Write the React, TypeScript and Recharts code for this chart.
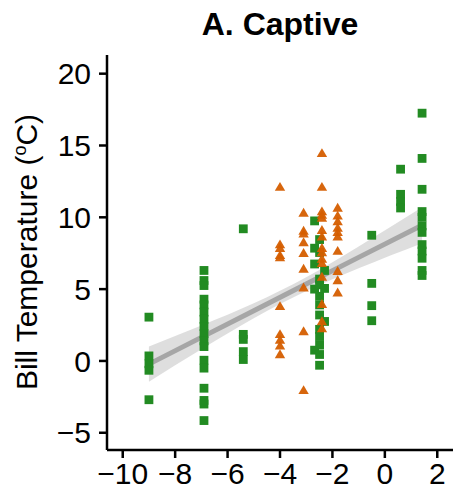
import React from "react";
import { ComposedChart, Scatter, Line, Area, XAxis, YAxis } from "recharts";

// green squares: one x position per column, y values
const greenX = [-9.0, -6.9, -5.4, -2.68, -2.49, -2.3, -0.5, 0.6, 1.42];
const greenY = [
  [3.05, 0.35, -0.2, -0.65, -2.7],
  [6.3, 5.6, 5.25, 4.3, 3.9, 3.4, 2.9, 2.4, 1.9, 1.4, 1.0, 0.05, -0.5, -1.9, -2.75, -3.0, -4.15],
  [9.2, 1.85, 1.5, 0.65, 0.1],
  [9.75, 7.85, 6.75, 5.0, 0.75],
  [8.45, 7.55, 5.7, 5.3, 4.5, 3.9, 3.2, 2.2, 1.7, 1.1, 0.45, -0.3],
  [6.3, 5.05, 2.75],
  [8.75, 5.4, 3.85, 2.8],
  [13.35, 11.6, 11.1, 10.65],
  [17.25, 14.1, 11.95, 10.4, 10.0, 9.4, 8.95, 8.1, 7.65, 7.15, 6.3, 5.95],
];

// orange triangles
const orangeX = [-4.0, -3.1, -2.4, -1.8];
const orangeY = [
  [12.05, 8.05, 7.8, 7.3, 7.15, 3.75, 1.8, 1.4, 1.0, 0.4],
  [10.25, 9.0, 8.8, 8.2, 7.45, 6.35, 5.05, 2.0, -2.1],
  [14.4, 12.05, 10.35, 10.1, 9.9, 9.05, 8.6, 7.8, 7.5, 7.05, 6.75, 5.8, 3.9, 2.7, 2.2],
  [10.6, 10.05, 9.65, 9.2, 8.9, 8.6, 7.6, 6.2, 5.55, 4.7],
];

// fitted line and its confidence band
const fitX = [-9, -7, -5, -3, -1, 1.42];
const fitY = [-0.22, 1.64, 3.49, 5.35, 7.21, 9.45];
const bandLo = [-1.45, 0.81, 2.97, 4.87, 6.45, 8.2];
const bandHi = [1.01, 2.47, 4.01, 5.83, 7.97, 10.7];

const xTicks = [-10, -8, -6, -4, -2, 0, 2];
const yTicks = [-5, 0, 5, 10, 15, 20];

const greenPts = greenX.flatMap((x, i) => greenY[i].map((y) => ({ x, y })));
const orangePts = orangeX.flatMap((x, i) => orangeY[i].map((y) => ({ x, y })));
const fitData = fitX.map((x, i) => ({ x, fit: fitY[i], band: [bandLo[i], bandHi[i]] }));

const font = "'Liberation Sans', Arial, sans-serif";
const minus = (v: number) => String(v).replace("-", "\u2212");

const Square = (p: any) => (
  <rect x={p.cx - 4.4} y={p.cy - 4.4} width={8.8} height={8.8} fill="#228B22" />
);

const Triangle = (p: any) => (
  <polygon
    points={`${p.cx},${p.cy - 5.9} ${p.cx - 5.2},${p.cy + 3} ${p.cx + 5.2},${p.cy + 3}`}
    fill="#D55E00"
    fillOpacity={0.95}
  />
);

const App = () => {
  return (
    <div style={{ position: "absolute", left: 0, top: 0, width: 455, height: 494, fontFamily: font }}>
      <div
        style={{
          position: "absolute",
          left: 107,
          width: 346,
          top: 8,
          textAlign: "center",
          fontSize: 32,
          lineHeight: "32px",
          fontWeight: "bold",
        }}
      >
        A. Captive
      </div>
      <div
        style={{
          position: "absolute",
          left: 27,
          top: 252,
          transform: "translate(-50%, -50%) rotate(-90deg)",
          whiteSpace: "nowrap",
          fontSize: 30,
          lineHeight: "30px",
        }}
      >
        Bill Temperature (<sup style={{ fontSize: 18, lineHeight: 0 }}>o</sup>C)
      </div>
      <ComposedChart
        width={455}
        height={494}
        margin={{ top: 55, right: 2, bottom: 0, left: 0 }}
      >
        <XAxis
          type="number"
          dataKey="x"
          domain={[-10.6, 2.6]}
          ticks={xTicks}
          allowDataOverflow
          tickFormatter={minus}
          height={44}
          tickSize={8}
          tickMargin={5}
          axisLine={{ stroke: "#000", strokeWidth: 2.5 }}
          tickLine={{ stroke: "#000", strokeWidth: 2.5 }}
          tick={{ fill: "#000", fontSize: 30, fontFamily: font }}
        />
        <YAxis
          type="number"
          domain={[-6.2, 21.3]}
          ticks={yTicks}
          allowDataOverflow
          tickFormatter={minus}
          width={107}
          tickSize={8}
          tickMargin={8}
          axisLine={{ stroke: "#000", strokeWidth: 2.5 }}
          tickLine={{ stroke: "#000", strokeWidth: 2.5 }}
          tick={{ fill: "#000", fontSize: 30, fontFamily: font }}
        />
        <Scatter data={greenPts} dataKey="y" shape={Square} isAnimationActive={false} />
        <Scatter data={orangePts} dataKey="y" shape={Triangle} isAnimationActive={false} />
        <Area
          data={fitData}
          dataKey="band"
          type="monotone"
          stroke="none"
          fill="#c8c8c8"
          fillOpacity={0.6}
          isAnimationActive={false}
        />
        <Line
          data={fitData}
          dataKey="fit"
          type="linear"
          stroke="#a6a6a6"
          strokeWidth={5}
          dot={false}
          isAnimationActive={false}
        />
      </ComposedChart>
    </div>
  );
};

export default App;
